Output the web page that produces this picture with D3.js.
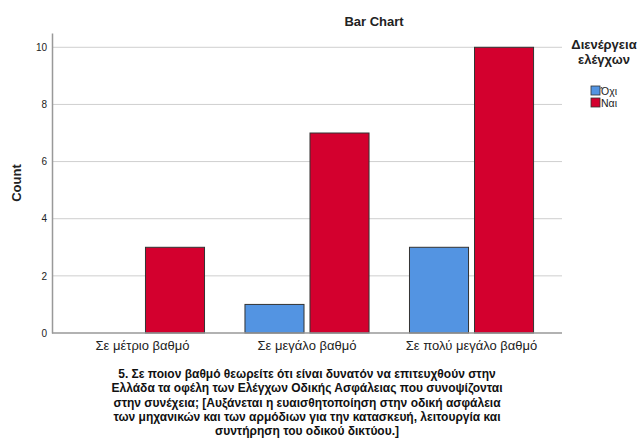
<!DOCTYPE html>
<html><head><meta charset="utf-8">
<script src="https://cdn.jsdelivr.net/npm/d3@7"></script>
<style>body{margin:0;background:#fff}svg{display:block}text{font-family:"Liberation Sans",Arial,sans-serif}</style>
</head><body><svg id="c" width="639" height="445"></svg>
<script>
const categories = ["Σε μέτριο βαθμό", "Σε μεγάλο βαθμό", "Σε πολύ μεγάλο βαθμό"];
const seriesNames = ["Όχι", "Ναι"];
const valuesOxi = [0, 1, 3];
const valuesNai = [3, 7, 10];
const yTicks = [0, 2, 4, 6, 8, 10];
const chartTitle = "Bar Chart";
const yTitle = "Count";
const legendTitle = ["Διενέργεια", "ελέγχων"];
const xTitle = [
  "5. Σε ποιον βαθμό θεωρείτε ότι είναι δυνατόν να επιτευχθούν στην",
  "Ελλάδα τα οφέλη των Ελέγχων Οδικής Ασφάλειας που συνοψίζονται",
  "στην συνέχεια; [Αυξάνεται η ευαισθητοποίηση στην οδική ασφάλεια",
  "των μηχανικών και των αρμόδιων για την κατασκευή, λειτουργία και",
  "συντήρηση του οδικού δικτύου.]"
];
const colors = ["#5394e2", "#d3002e"];

const svg = d3.select("#c");
const L = 52, R = 562, T = 33, B = 333;
const x0 = d3.scaleBand().domain(categories).range([L, R]).paddingInner(0).paddingOuter(0.05);
const x1 = d3.scaleBand().domain(seriesNames).range([0, x0.bandwidth()]).paddingInner(0.092).paddingOuter(0.311);
const y = d3.scaleLinear().domain([0, 10.5]).range([B, T]);
const color = d3.scaleOrdinal().domain(seriesNames).range(colors);

// gridlines
svg.append("g").selectAll("line").data(yTicks.filter(d => d > 0)).join("line")
  .attr("x1", L).attr("x2", R).attr("y1", d => y(d)).attr("y2", d => y(d))
  .attr("stroke", "#cfcfcf").attr("stroke-width", 1);

// bars
const data = categories.map((c, i) => ({c, vals: [valuesOxi[i], valuesNai[i]]}));
const g = svg.append("g").selectAll("g").data(data).join("g")
  .attr("transform", d => `translate(${x0(d.c)},0)`);
g.selectAll("rect").data(d => d.vals.map((v, j) => ({s: seriesNames[j], v})).filter(e => e.v > 0)).join("rect")
  .attr("x", e => x1(e.s)).attr("width", x1.bandwidth())
  .attr("y", e => y(e.v)).attr("height", e => y(0) - y(e.v))
  .attr("fill", e => color(e.s)).attr("stroke", "#333").attr("stroke-width", 1);

// y axis
const ya = svg.append("g").attr("transform", `translate(${L},0)`)
  .call(d3.axisLeft(y).tickValues(yTicks).tickSize(0).tickPadding(5));
ya.select(".domain").attr("stroke", "#999").attr("stroke-width", 1.5);
ya.selectAll("text").attr("font-size", 10).attr("fill", "#222").attr("font-family", "Liberation Sans, Arial, sans-serif");

// x axis
const xa = svg.append("g").attr("transform", `translate(0,${B})`)
  .call(d3.axisBottom(x0).tickSize(0).tickPadding(8));
xa.select(".domain").attr("d", `M${L},0H${R}`).attr("stroke", "#999").attr("stroke-width", 1.5);
xa.selectAll("text").attr("font-size", 13).attr("fill", "#222").attr("font-family", "Liberation Sans, Arial, sans-serif");

// title
svg.append("text").attr("x", 374).attr("y", 26).attr("text-anchor", "middle")
  .attr("font-size", 13).attr("font-weight", "bold").attr("fill", "#222").text(chartTitle);

// y title
svg.append("text").attr("transform", `translate(21,${(T + B) / 2}) rotate(-90)`)
  .attr("text-anchor", "middle").attr("font-size", 13).attr("font-weight", "bold").attr("fill", "#222").text(yTitle);

// x title
const xt = svg.append("text").attr("text-anchor", "middle").attr("font-size", 12).attr("font-weight", "bold").attr("fill", "#111");
xTitle.forEach((t, i) => xt.append("tspan").attr("x", 307).attr("y", 378 + i * 14.3).text(t));

// legend
const lg = svg.append("g");
legendTitle.forEach((t, i) => lg.append("text").attr("x", 604).attr("y", 49 + i * 15)
  .attr("text-anchor", "middle").attr("font-size", 13).attr("font-weight", "bold").attr("fill", "#222").text(t));
seriesNames.forEach((s, i) => {
  lg.append("rect").attr("x", 591).attr("y", 86 + i * 12).attr("width", 9).attr("height", 9)
    .attr("fill", color(s)).attr("stroke", "#333").attr("stroke-width", 0.8);
  lg.append("text").attr("x", 601).attr("y", 94.5 + i * 12).attr("font-size", 10.5).attr("fill", "#222").text(s);
});
</script></body></html>
